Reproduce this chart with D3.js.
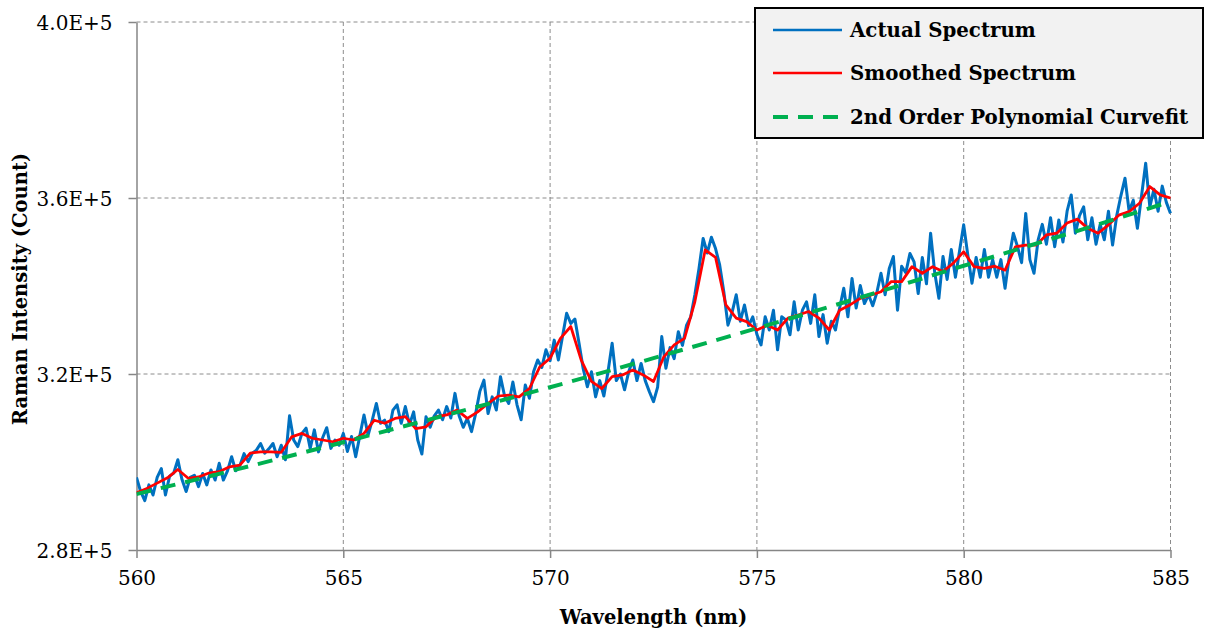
<!DOCTYPE html>
<html>
<head>
<meta charset="utf-8">
<script src="https://cdn.jsdelivr.net/npm/d3@7"></script>
<style>
  html, body { margin: 0; padding: 0; background: #ffffff; }
  svg { display: block; }
  .tick text { font-family: "DejaVu Serif", serif; font-size: 20px; fill: #000; }
</style>
</head>
<body>
<svg id="chart" width="1209" height="634"></svg>
<script>
// Raman spectrum, intensities in thousands of counts
const wavelengthStart = 560;
const wavelengthStep = 0.1;   // nm between samples of the measured spectrum

const actualSpectrum = [
  296.5, 293.3, 291.2, 294.8, 292.5, 296.5, 298.5, 292.5, 296.8, 297.5,
  300.5, 296.0, 293.3, 296.5, 297.0, 294.4, 297.4, 294.8, 298.2, 295.9,
  299.7, 295.9, 298.0, 301.2, 298.0, 299.2, 301.9, 300.1, 302.0, 302.7,
  304.2, 302.0, 303.0, 304.2, 301.2, 303.8, 300.5, 310.5, 305.0, 303.5,
  306.5, 307.7, 303.1, 307.3, 302.3, 305.5, 307.8, 303.1, 305.0, 303.8,
  306.5, 302.4, 305.8, 301.2, 306.0, 310.7, 306.1, 309.5, 313.3, 308.8,
  309.5, 306.9, 311.8, 313.0, 308.8, 312.6, 308.5, 311.4, 305.0, 301.8,
  310.3, 307.9, 310.5, 311.8, 309.6, 312.6, 310.0, 315.6, 310.5, 307.9,
  309.9, 306.9, 311.0, 316.0, 318.6, 311.0, 314.8, 311.8, 319.4, 315.0,
  313.3, 318.2, 313.0, 309.6, 317.5, 314.5, 320.5, 323.2, 321.5, 325.5,
  323.0, 327.7, 323.2, 328.5, 333.8, 331.5, 332.5, 327.0, 321.2, 317.1,
  320.5, 314.8, 318.5, 315.0, 320.5, 327.0, 318.5, 320.0, 316.4, 320.5,
  323.2, 318.5, 322.4, 318.5, 316.0, 313.7, 317.0, 328.5, 321.3, 326.0,
  323.5, 329.6, 326.5, 331.1, 333.0, 338.0, 344.0, 350.8, 347.5, 351.1,
  348.5, 344.8, 338.7, 331.1, 334.0, 338.0, 332.0, 335.7, 331.0, 333.0,
  329.0, 326.6, 333.0, 330.0, 334.5, 325.5, 333.0, 332.3, 328.9, 336.4,
  330.0, 334.5, 336.4, 331.5, 338.0, 328.5, 333.5, 327.0, 332.0, 330.0,
  335.0, 339.5, 333.0, 341.7, 335.0, 340.1, 336.0, 338.0, 335.5, 338.5,
  342.9, 338.0, 344.0, 346.7, 334.5, 344.5, 343.0, 347.4, 345.5, 338.3,
  346.5, 340.5, 352.0, 343.0, 337.2, 346.7, 341.5, 348.3, 342.0, 348.0,
  353.9, 347.0, 340.6, 346.5, 342.0, 348.3, 342.0, 346.0, 342.0, 346.0,
  339.5, 346.5, 352.0, 349.0, 345.3, 356.5, 346.0, 342.9, 350.5, 354.0,
  349.5, 355.5, 348.9, 355.0, 350.0, 357.0, 360.7, 352.0, 356.0, 358.0,
  350.5, 355.5, 349.5, 354.0, 350.5, 357.0, 349.3, 356.0, 360.5, 364.5,
  357.0, 359.5, 353.1, 360.5, 367.9, 358.0, 362.0, 357.0, 362.7, 359.0,
  356.5
];

const smoothedStep = 0.25;   // nm between samples of the smoothed spectrum
const smoothedSpectrum = [
  293.0, 294.0, 295.2, 296.4, 298.3, 296.3, 296.6, 297.5, 297.8, 298.9,
  299.3, 302.0, 302.3, 302.3, 302.2, 305.7, 306.5, 305.4, 305.0, 304.6,
  305.4, 305.0, 306.5, 309.5, 308.8, 309.9, 310.3, 307.6, 308.0, 310.3,
  310.7, 311.8, 309.9, 311.4, 313.3, 315.0, 315.2, 314.8, 316.7, 321.6,
  323.6, 328.1, 330.8, 323.2, 318.3, 316.7, 319.4, 319.8, 320.9, 319.8,
  318.3, 323.9, 326.6, 328.1, 336.4, 348.2, 346.5, 335.7, 332.7, 331.9,
  330.0, 331.1, 330.0, 332.7, 333.4, 334.2, 332.7, 330.0, 334.5, 335.7,
  337.2, 337.9, 338.7, 341.0, 341.0, 344.4, 342.9, 344.4, 343.3, 345.2,
  347.8, 344.4, 344.0, 344.5, 343.6, 348.9, 349.3, 349.3, 351.6, 352.0,
  354.3, 355.2, 353.1, 352.0, 353.9, 356.1, 356.9, 358.8, 362.6, 360.7,
  360.0
];

// 2nd order polynomial baseline, sampled every 2.5 nm
const fitWavelengths = [560, 562.5, 565, 567.5, 570, 572.5, 575, 577.5, 580, 582.5, 585];
const fitValues      = [292.7, 298.5, 304.5, 310.7, 317.0, 323.6, 330.4, 337.4, 344.6, 351.8, 359.2];

const xTicks = [560, 565, 570, 575, 580, 585];
const yTicks = [280, 320, 360, 400];
const yTickLabels = ["2.8E+5", "3.2E+5", "3.6E+5", "4.0E+5"];

const seriesNames = ["Actual Spectrum", "Smoothed Spectrum", "2nd Order Polynomial Curvefit"];
const seriesColors = ["#0070c0", "#ff0000", "#00b050"];

// ---- layout
const plot = { left: 136.5, right: 1170.5, top: 22, bottom: 550 };

const svg = d3.select("#chart");

const x = d3.scaleLinear().domain([560, 585]).range([plot.left, plot.right]);
const y = d3.scaleLinear().domain([280, 400]).range([plot.bottom, plot.top]);

const actualPts = actualSpectrum.map((v, i) => [wavelengthStart + i * wavelengthStep, v]);
const smoothPts = smoothedSpectrum.map((v, i) => [wavelengthStart + i * smoothedStep, v]);
const fitPts = fitWavelengths.map((w, i) => [w, fitValues[i]]);

// ---- grid
const grid = svg.append("g").attr("class", "grid");
grid.selectAll("line.v").data(xTicks.slice(1)).join("line")
  .attr("x1", d => x(d)).attr("x2", d => x(d))
  .attr("y1", plot.top).attr("y2", plot.bottom)
  .attr("stroke", "#8c8c8c").attr("stroke-width", 1).attr("stroke-dasharray", "4,3");
grid.selectAll("line.h").data(yTicks.slice(1)).join("line")
  .attr("x1", plot.left).attr("x2", plot.right)
  .attr("y1", d => y(d)).attr("y2", d => y(d))
  .attr("stroke", "#8c8c8c").attr("stroke-width", 1).attr("stroke-dasharray", "4,3");

// ---- axes
const xAxis = d3.axisBottom(x).tickValues(xTicks).tickFormat(d3.format("d"))
  .tickSizeInner(8).tickSizeOuter(0).tickPadding(13);
const yAxis = d3.axisLeft(y).tickValues(yTicks).tickFormat((d, i) => yTickLabels[i])
  .tickSizeInner(8).tickSizeOuter(0).tickPadding(16);

const gx = svg.append("g").attr("transform", `translate(0,${plot.bottom})`).call(xAxis);
const gy = svg.append("g").attr("transform", `translate(${plot.left},0)`).call(yAxis);
[gx, gy].forEach(g => {
  g.select(".domain").attr("stroke", "#868686").attr("stroke-width", 1.5);
  g.selectAll(".tick line").attr("stroke", "#868686").attr("stroke-width", 1.5);
});
gy.selectAll(".tick text").attr("dy", "0.36em");

// ---- series
svg.append("clipPath").attr("id", "plotClip").append("rect")
  .attr("x", plot.left).attr("y", plot.top - 10)
  .attr("width", plot.right - plot.left + 4).attr("height", plot.bottom - plot.top + 10);

const series = svg.append("g").attr("clip-path", "url(#plotClip)");
const line = d3.line().x(d => x(d[0])).y(d => y(d[1]));

series.append("path").datum(actualPts)
  .attr("d", line).attr("fill", "none")
  .attr("stroke", seriesColors[0]).attr("stroke-width", 3).attr("stroke-linejoin", "round");
series.append("path").datum(smoothPts)
  .attr("d", line).attr("fill", "none")
  .attr("stroke", seriesColors[1]).attr("stroke-width", 2.75).attr("stroke-linejoin", "round");
series.append("path").datum(fitPts)
  .attr("d", d3.line().curve(d3.curveNatural).x(d => x(d[0])).y(d => y(d[1])))
  .attr("fill", "none")
  .attr("stroke", seriesColors[2]).attr("stroke-width", 4).attr("stroke-dasharray", "15,10");

// ---- axis titles
svg.append("text")
  .attr("x", (plot.left + plot.right) / 2).attr("y", 624)
  .attr("text-anchor", "middle")
  .style("font-family", "'DejaVu Serif', serif").style("font-weight", "bold").style("font-size", "19.5px")
  .text("Wavelength (nm)");
svg.append("text")
  .attr("transform", `translate(27,${(plot.top + plot.bottom) / 2 + 3}) rotate(-90)`)
  .attr("text-anchor", "middle")
  .style("font-family", "'DejaVu Serif', serif").style("font-weight", "bold").style("font-size", "19.5px")
  .text("Raman Intensity (Count)");

// ---- legend
const legend = svg.append("g").attr("transform", "translate(755,8)");
legend.append("rect").attr("width", 448).attr("height", 130)
  .attr("fill", "#f2f2f2").attr("stroke", "#000").attr("stroke-width", 2);
const rowY = [22, 65, 109];
seriesNames.forEach((name, i) => {
  const row = legend.append("g").attr("transform", `translate(0,${rowY[i]})`);
  row.append("line").attr("x1", 18).attr("x2", 87).attr("y1", 0).attr("y2", 0)
    .attr("stroke", seriesColors[i])
    .attr("stroke-width", i === 2 ? 4 : 2.5)
    .attr("stroke-dasharray", i === 2 ? "15,10" : null);
  row.append("text").attr("x", 95).attr("y", 0).attr("dy", "0.35em")
    .style("font-family", "'DejaVu Serif', serif").style("font-weight", "bold").style("font-size", "19.8px")
    .text(name);
});
</script>
</body>
</html>
